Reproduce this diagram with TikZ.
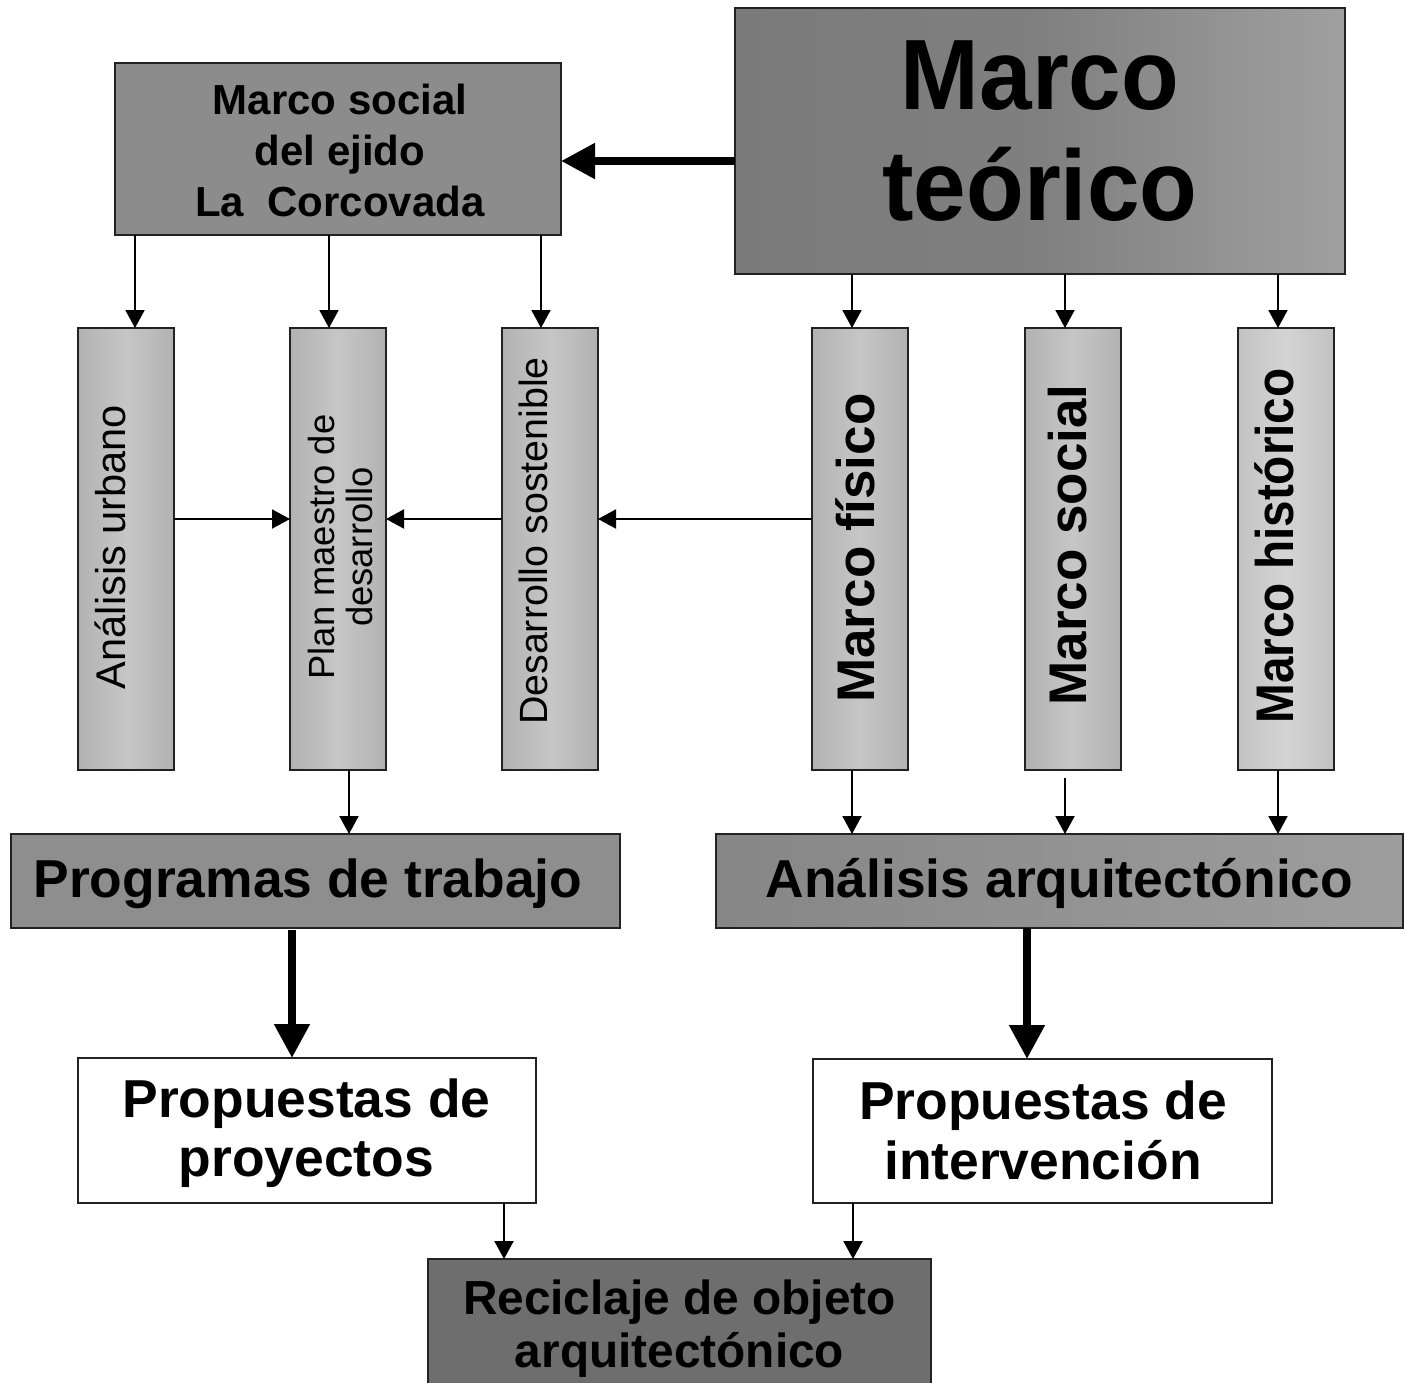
\documentclass[tikz,border=0pt]{standalone}
\usepackage{fontspec}
\setmainfont{Liberation Sans}
\newfontfamily\teofont[FakeStretch=0.945]{Liberation Sans Bold}
\newfontfamily\histfont[FakeStretch=0.9]{Liberation Sans Bold}
\usetikzlibrary{arrows.meta,calc}
\definecolor{teoL}{HTML}{7A7A7A}
\definecolor{teoR}{HTML}{A0A0A0}
\definecolor{msocC}{HTML}{8C8C8C}
\definecolor{vEdge}{HTML}{B2B2B2}
\definecolor{vMid}{HTML}{C6C6C6}
\definecolor{hEdge}{HTML}{C2C2C2}
\definecolor{hMid}{HTML}{D4D4D4}
\definecolor{progC}{HTML}{8E8E8E}
\definecolor{arqL}{HTML}{868686}
\definecolor{arqR}{HTML}{9E9E9E}
\definecolor{recC}{HTML}{6E6E6E}
\definecolor{frame}{HTML}{222222}
\tikzset{
  box/.style={draw=frame, line width=1pt, inner sep=0pt, outer sep=0pt},
  vbox/.style={box, minimum width=48pt, minimum height=221pt, left color=vEdge, right color=vEdge, middle color=vMid},
  txt/.style={inner sep=0pt, outer sep=0pt, text=black},
  thinarrow/.style={line width=1pt, draw=black, -{Triangle[width=9.5pt,length=9pt]}},
  thickarrow/.style={line width=4pt, draw=black, -{Triangle[width=17pt,length=17pt]}}
}
\begin{document}
\begin{tikzpicture}[x=0.5pt,y=-0.5pt]
\useasboundingbox (0,0) rectangle (1405,1383);
\fill[white] (0,0) rectangle (1405,1383);

% boxes
\node[box, minimum width=305pt, minimum height=133pt, left color=teoL, right color=teoR, middle color=teoL!85!teoR] (teo) at (1040,141) {};
\node[box, minimum width=223pt, minimum height=86pt, fill=msocC] (msoc) at (338,149) {};
\node[vbox] (v1) at (126,549) {};
\node[vbox] (v2) at (338,549) {};
\node[vbox] (v3) at (550,549) {};
\node[vbox] (v4) at (860,549) {};
\node[vbox] (v5) at (1073,549) {};
\node[vbox, left color=hEdge, right color=hEdge, middle color=hMid] (v6) at (1285.5,549) {};
\node[box, minimum width=304.5pt, minimum height=47pt, fill=progC] (prog) at (315.5,881) {};
\node[box, minimum width=343.5pt, minimum height=47pt, left color=arqL, right color=arqR] (arq) at (1059.5,881) {};
\node[box, minimum width=229pt, minimum height=72.5pt, fill=white] (pp) at (307,1130.5) {};
\node[box, minimum width=229.5pt, minimum height=72pt, fill=white] (pi) at (1042.5,1131) {};
\node[box, minimum width=251.5pt, minimum height=80.5pt, fill=recC] (rec) at (679.5,1339.5) {};

% texts
\node[txt, align=center, font=\teofont\fontsize{50}{55.5}\selectfont] (teoT) at (1040,131.5) {Marco\\teórico};
\node[txt, align=center, font=\bfseries\fontsize{21}{25.5}\selectfont] (msocT) at (340,150.7) {Marco social\\del ejido\\La~ Corcovada};
\node[txt, rotate=90, anchor=base, font=\fontsize{20.8}{24}\selectfont] (v1T) at (126,547) {Análisis urbano};
\node[txt, rotate=90, align=center, font=\fontsize{18.2}{19}\selectfont] (v2T) at (340,547) {Plan maestro de\\desarrollo};
\node[txt, rotate=90, anchor=base, font=\fontsize{19.7}{23}\selectfont] (v3T) at (547,541) {Desarrollo sostenible};
\node[txt, rotate=90, anchor=base, font=\bfseries\fontsize{26.5}{30}\selectfont] (v4T) at (874,548) {Marco físico};
\node[txt, rotate=90, anchor=base, font=\bfseries\fontsize{26.5}{30}\selectfont] (v5T) at (1086,545) {Marco social};
\node[txt, rotate=90, anchor=base, font=\histfont\fontsize{26.5}{30}\selectfont] (v6T) at (1293.5,546) {Marco histórico};
\node[txt, anchor=base, font=\bfseries\fontsize{26.7}{30}\selectfont] (progT) at (308,897) {Programas de trabajo};
\node[txt, anchor=base, font=\bfseries\fontsize{26.7}{30}\selectfont] (arqT) at (1059.5,897) {Análisis arquitectónico};
\node[txt, align=center, font=\bfseries\fontsize{26.7}{29.5}\selectfont] (ppT) at (306.5,1133.5) {Propuestas de\\proyectos};
\node[txt, align=center, font=\bfseries\fontsize{26.7}{30}\selectfont] (piT) at (1043,1130.5) {Propuestas de\\intervención};
\node[txt, align=center, font=\bfseries\fontsize{23.9}{26.5}\selectfont] (recT) at (679.5,1329) {Reciclaje de objeto\\arquitectónico};

% helper coordinates
\coordinate (hy) at (0,161);
\coordinate (my) at (0,519);
\coordinate (a1) at (135,0);
\coordinate (a2) at (329,0);
\coordinate (a3) at (541,0);
\coordinate (b1) at (852,0);
\coordinate (b2) at (1065,0);
\coordinate (b3) at (1278,0);
\coordinate (c2) at (349,0);
\coordinate (d1) at (292,0);
\coordinate (d2) at (1027,0);
\coordinate (e1) at (504,0);
\coordinate (e2) at (853,0);

% connectors
\draw[thickarrow] (teo.west |- hy) -- (msoc.east |- hy);
\draw[thinarrow] (msoc.south -| a1) -- (v1.north -| a1);
\draw[thinarrow] (msoc.south -| a2) -- (v2.north -| a2);
\draw[thinarrow] (msoc.south -| a3) -- (v3.north -| a3);
\draw[thinarrow] (teo.south -| b1) -- (v4.north -| b1);
\draw[thinarrow] (teo.south -| b2) -- (v5.north -| b2);
\draw[thinarrow] (teo.south -| b3) -- (v6.north -| b3);
\draw[thinarrow] (v1.east |- my) -- (v2.west |- my);
\draw[thinarrow] (v3.west |- my) -- (v2.east |- my);
\draw[thinarrow] (v4.west |- my) -- (v3.east |- my);
\draw[thinarrow] (v2.south -| c2) -- (prog.north -| c2);
\draw[thinarrow] (v4.south -| b1) -- (arq.north -| b1);
\draw[thinarrow] ([yshift=-4pt]v5.south -| b2) -- (arq.north -| b2);
\draw[thinarrow] (v6.south -| b3) -- (arq.north -| b3);
\draw[thickarrow] ([yshift=-1pt]prog.south -| d1) -- (pp.north -| d1);
\draw[thickarrow] (arq.south -| d2) -- (pi.north -| d2);
\draw[thinarrow] (pp.south -| e1) -- (rec.north -| e1);
\draw[thinarrow] (pi.south -| e2) -- (rec.north -| e2);
\end{tikzpicture}
\end{document}
